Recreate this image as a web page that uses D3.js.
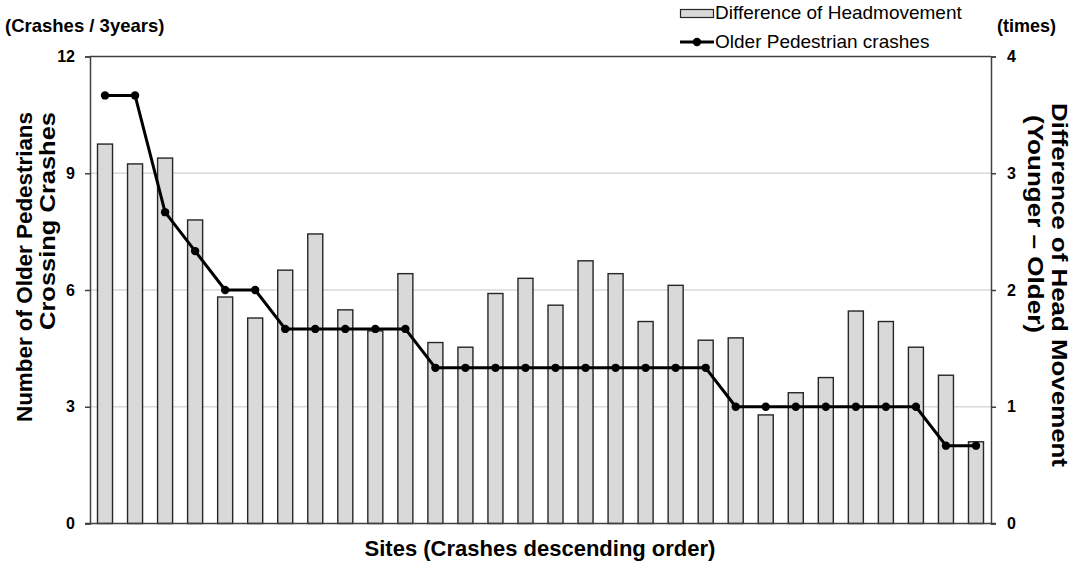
<!DOCTYPE html>
<html><head><meta charset="utf-8">
<script src="https://cdn.jsdelivr.net/npm/d3@7"></script>
<style>body{margin:0;background:#fff}svg{display:block;font-family:Arial,"Liberation Sans",sans-serif}</style>
</head><body><svg id="c" width="1074" height="564"></svg>
<script>
const sites = d3.range(1, 31).map(i => "S" + i);
const headDiff = [3.25,3.08,3.13,2.60,1.94,1.76,2.17,2.48,1.83,1.65,2.14,1.55,1.51,1.97,2.10,1.87,2.25,2.14,1.73,2.04,1.57,1.59,0.93,1.12,1.25,1.82,1.73,1.51,1.27,0.70];
const crashes = [11,11,8,7,6,6,5,5,5,5,5,4,4,4,4,4,4,4,4,4,4,3,3,3,3,3,3,3,2,2];
const leftTicks = [0,3,6,9,12];
const rightTicks = [0,1,2,3,4];

const svg = d3.select("#c");
const L = 90, R = 991, T = 56.5, B = 523.5;
const x = d3.scaleBand().domain(sites).range([L, R]).paddingInner(0.5).paddingOuter(0.25);
const yL = d3.scaleLinear().domain([0, 12]).range([B, T]);
const yR = d3.scaleLinear().domain([0, 4]).range([B, T]);
const axisCol = "#404040";

// gridlines
svg.append("g").selectAll("line").data([3,6,9]).join("line")
  .attr("x1", L).attr("x2", R).attr("y1", d => yL(d)).attr("y2", d => yL(d))
  .attr("stroke", "#d9d9d9").attr("stroke-width", 1.3);

// bars
svg.append("g").selectAll("rect").data(headDiff).join("rect")
  .attr("x", (d,i) => x(sites[i])).attr("width", x.bandwidth())
  .attr("y", d => yR(d)).attr("height", d => B - yR(d))
  .attr("fill", "#d9d9d9").attr("stroke", "#262626").attr("stroke-width", 1.4);

// top border
svg.append("line").attr("x1", L).attr("x2", R).attr("y1", T).attr("y2", T)
  .attr("stroke", axisCol).attr("stroke-width", 1.5);

// axes
const gl = svg.append("g").attr("transform", `translate(${L},0)`)
  .call(d3.axisLeft(yL).tickValues(leftTicks).tickFormat(d3.format("d")).tickSize(5).tickPadding(10));
const gr = svg.append("g").attr("transform", `translate(${R},0)`)
  .call(d3.axisRight(yR).tickValues(rightTicks).tickFormat(d3.format("d")).tickSize(5).tickPadding(11));
const gb = svg.append("g").attr("transform", `translate(0,${B})`)
  .call(d3.axisBottom(x).tickValues([]).tickSizeOuter(0));
[gl, gr, gb].forEach(g => {
  g.selectAll("path,line").attr("stroke", axisCol).attr("stroke-width", 1.5);
  g.selectAll("text").attr("font-size", 16).attr("font-weight", "bold").attr("fill", "#000")
    .attr("font-family", "Arial, 'Liberation Sans', sans-serif");
});
gb.select("path").attr("d", `M${L-5},0H${R+5}`);

// line
const line = d3.line().x((d,i) => x(sites[i]) + x.bandwidth()/2).y(d => yL(d));
svg.append("path").datum(crashes).attr("d", line)
  .attr("fill", "none").attr("stroke", "#000").attr("stroke-width", 3).attr("stroke-linejoin", "round");
svg.append("g").selectAll("circle").data(crashes).join("circle")
  .attr("cx", (d,i) => x(sites[i]) + x.bandwidth()/2).attr("cy", d => yL(d))
  .attr("r", 4.2).attr("fill", "#000");

// titles
svg.append("text").attr("x", 5).attr("y", 32).attr("font-size", 18.5).attr("font-weight", "bold").text("(Crashes / 3years)");
svg.append("text").attr("x", 997).attr("y", 32).attr("font-size", 18).attr("font-weight", "bold").text("(times)");
svg.append("text").attr("x", 540).attr("y", 556).attr("text-anchor", "middle").attr("font-size", 22).attr("font-weight", "bold")
  .text("Sites (Crashes descending order)");

const ylab = svg.append("text").attr("transform", "translate(0,112) rotate(-90)")
  .attr("text-anchor", "end").attr("font-size", 22).attr("font-weight", "bold");
ylab.append("tspan").attr("x", 0).attr("y", 32).attr("textLength", 310).attr("lengthAdjust", "spacingAndGlyphs").text("Number of Older Pedestrians");
ylab.append("tspan").attr("x", 0).attr("y", 55).attr("textLength", 218).attr("lengthAdjust", "spacingAndGlyphs").text("Crossing Crashes");

const yrlab = svg.append("text").attr("transform", "translate(0,103) rotate(90)")
  .attr("text-anchor", "start").attr("font-size", 22).attr("font-weight", "bold");
yrlab.append("tspan").attr("x", 0).attr("y", -1052).attr("textLength", 364).attr("lengthAdjust", "spacingAndGlyphs").text("Difference of Head Movement");
yrlab.append("tspan").attr("x", 12).attr("y", -1028).attr("textLength", 218).attr("lengthAdjust", "spacingAndGlyphs").text("(Younger – Older)");

// legend
const lg = svg.append("g");
lg.append("rect").attr("x", 680.5).attr("y", 9.5).attr("width", 33).attr("height", 8)
  .attr("fill", "#d9d9d9").attr("stroke", "#262626").attr("stroke-width", 1.2);
lg.append("text").attr("x", 715).attr("y", 19).attr("font-size", 19).text("Difference of Headmovement");
lg.append("line").attr("x1", 680).attr("x2", 714).attr("y1", 42).attr("y2", 42).attr("stroke", "#000").attr("stroke-width", 3);
lg.append("circle").attr("cx", 697).attr("cy", 42).attr("r", 4.2).attr("fill", "#000");
lg.append("text").attr("x", 715).attr("y", 48).attr("font-size", 19).text("Older Pedestrian crashes");
</script></body></html>
